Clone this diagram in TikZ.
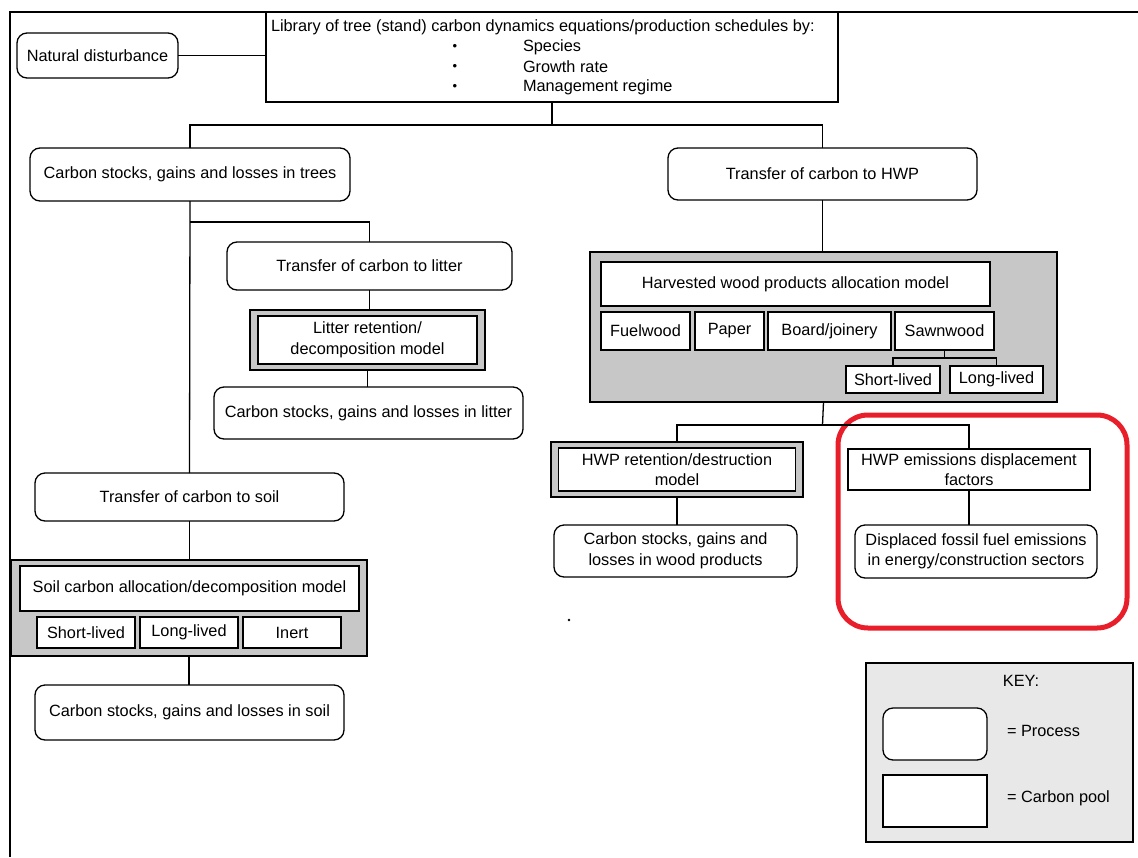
\documentclass[tikz,border=0pt]{standalone}
\usepackage{fontspec}
\setmainfont{Liberation Sans}
\begin{document}
\begin{tikzpicture}[x=1pt,y=-1pt,
  every node/.style={font=\fontsize{16.3}{20.5}\selectfont, inner sep=0pt, outer sep=0pt},
  box/.style={draw, line width=1.3pt, fill=white, align=center},
  proc/.style={box, rounded corners=10pt},
  pool/.style={box},
  grp/.style={draw, line width=1.5pt, fill=black!22},
  link/.style={line width=1.3pt},
  dot/.style={font=\fontsize{13}{14}\selectfont},
  sz/.style 2 args={minimum width=#1pt, minimum height=#2pt}]
\useasboundingbox (0,0) rectangle (1138,857);

% page frame
\draw[line width=2pt] (1138,12) -- (10,12) -- (10,857);

% top of the tree
\node[proc, sz={161}{45}] (nd) at (97.5,55.5) {Natural disturbance};
\node[pool, sz={572}{90}] (lib) at (552,57) {};
\node[anchor=west] (libt) at (271,27) {Library of tree (stand) carbon dynamics equations/production schedules by:};
\node[dot] (b1) at (455,47) {\textbullet};
\node[dot] (b2) at (455,67) {\textbullet};
\node[dot] (b3) at (455,87) {\textbullet};
\node[anchor=west] (i1) at (523,47) {Species};
\node[anchor=west] (i2) at (523,67) {Growth rate};
\node[anchor=west] (i3) at (523,87) {Management regime};

\node[proc, sz={320}{53}] (trees) at (190,174.5) {Carbon stocks, gains and losses in trees};
\node[proc, sz={309}{52}] (thwp) at (822.5,174) {Transfer of carbon to HWP};

% litter branch
\node[proc, sz={285}{48}] (tlit) at (369.5,266) {Transfer of carbon to litter};
\node[grp, sz={235}{60}] (litg) at (367.5,340) {};
\node[pool, sz={219}{48}] (litm) at (367.5,340) {Litter retention/\\decomposition model};
\node[proc, sz={309}{52}] (slit) at (368.5,413) {Carbon stocks, gains and losses in litter};

% soil branch
\node[proc, sz={309}{48}] (tsoil) at (189.5,497) {Transfer of carbon to soil};
\node[grp, sz={356}{96}] (soilg) at (189,608) {};
\node[pool, sz={339}{45}] (soilm) at (189.5,588.5) {Soil carbon allocation/decomposition model};
\node[pool, sz={98}{31}] (s1) at (86,632.5) {Short-lived};
\node[pool, sz={98}{31}] (s2) at (189,632.5) {Long-lived};
\node[pool, sz={98}{31}] (s3) at (292,632.5) {Inert};
\node[proc, sz={309}{55}] (ssoil) at (189.5,712.5) {Carbon stocks, gains and losses in soil};

% harvested wood products
\node[grp, sz={467}{150}] (hwpg) at (823.5,327) {};
\node[pool, sz={389}{44}] (hwpm) at (795.5,284) {Harvested wood products allocation model};
\node[pool, sz={89}{38}] (fuel) at (645.5,331) {Fuelwood};
\node[pool, sz={69}{38}] (paper) at (729.5,331) {Paper};
\node[pool, sz={123}{38}] (board) at (829.5,331) {Board/joinery};
\node[pool, sz={99}{38}] (saw) at (944.5,331) {Sawnwood};
\node[pool, sz={94}{27}] (short) at (893,379.5) {Short-lived};
\node[pool, sz={93}{27}] (long) at (996.5,379.5) {Long-lived};

\node[grp, sz={252}{55}] (retg) at (677,469.5) {};
\node[pool, sz={237}{43}] (retm) at (677,469.5) {HWP retention/destruction\\model};
\node[proc, sz={243}{52}] (swood) at (675.5,551) {Carbon stocks, gains and\\losses in wood products};
\node[pool, sz={242}{41}] (dispf) at (969,469.5) {HWP emissions displacement\\factors};
\node[proc, sz={242}{53}] (fossil) at (976,551.5) {Displaced fossil fuel emissions\\in energy/construction sectors};

% highlight
\draw[line width=5pt, color={rgb,255:red,232;green,30;blue,42}, rounded corners=30pt]
  (838,415) rectangle (1127,628);
\fill (569,620) circle (1.3pt);

% key
\node[draw, line width=1.5pt, fill=black!9, sz={267}{179}] (key) at (999.5,752.5) {};
\node (keyt) at (1021,681) {KEY:};
\node[proc, sz={104}{52}] (kproc) at (935,734) {};
\node[pool, sz={104}{52}] (kpool) at (935,801) {};
\node[anchor=west] (kproct) at (1007,731) {= Process};
\node[anchor=west] (kpoolt) at (1007,798) {= Carbon pool};

% connectors
\coordinate (j1) at (552,125);
\coordinate (j2) at (190,222);
\coordinate (j3) at (822.5,425);
\coordinate (j4) at (944.5,358);
\draw[link] (nd.east) -- (lib.west |- nd.east);
\draw[link] (lib.south) -- (j1);
\draw[link] (trees.north) |- (j1) -| (thwp.north);
\draw[link] (trees.south) -- (tsoil.north);
\draw[link] (j2) -| (tlit.north);
\draw[link] (tlit.south) -- (tlit.south |- litg.north);
\draw[link] (litg.south) -- (litg.south |- slit.north);
\draw[link] (tsoil.south) -- (tsoil.south |- soilg.north);
\draw[link] (soilg.south) -- (soilg.south |- ssoil.north);
\draw[link] (thwp.south) -- (thwp.south |- hwpg.north);
\draw[link] (saw.south) -- (j4);
\draw[link] (short.north) |- (j4) -| (long.north);
\draw[link] (hwpg.south) -- (j3);
\draw[link] (retg.north) |- (j3) -| (dispf.north);
\draw[link] (retg.south) -- (retg.south |- swood.north);
\draw[link] (dispf.south) -- (dispf.south |- fossil.north);
\end{tikzpicture}
\end{document}
